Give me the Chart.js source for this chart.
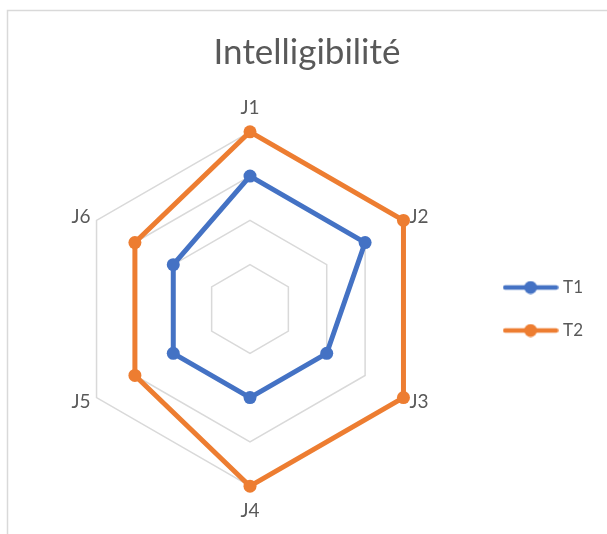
<!DOCTYPE html>
<html>
<head>
<meta charset="utf-8">
<script src="https://cdn.jsdelivr.net/npm/chart.js@4/dist/chart.umd.min.js"></script>
<style>
  html, body { margin: 0; padding: 0; background: #fff; }
</style>
</head>
<body>
<canvas id="radarChart" width="607" height="534"></canvas>
<script>
// datos del grafico
const labels = ['J1', 'J2', 'J3', 'J4', 'J5', 'J6'];
const t1Values = [3, 3, 2, 2, 2, 2];
const t2Values = [4, 4, 4, 4, 3, 3];
const seriesNames = ['T1', 'T2'];
const seriesColors = ['#4472C4', '#ED7D31'];
const scaleMin = 0;
const scaleMax = 4;
const scaleStep = 1;

const textColor = '#595959';

// marcador de leyenda: linea con punto al medio
function legendMarker(color) {
    const c = document.createElement('canvas');
    c.width = 56;
    c.height = 14;
    const g = c.getContext('2d');
    g.strokeStyle = color;
    g.lineWidth = 4.5;
    g.lineCap = 'round';
    g.beginPath();
    g.moveTo(2.5, 7);
    g.lineTo(53.5, 7);
    g.stroke();
    g.fillStyle = color;
    g.beginPath();
    g.arc(28, 7, 6.5, 0, Math.PI * 2);
    g.fill();
    return c;
}
const markers = seriesColors.map(legendMarker);

// fondo blanco y borde del area del grafico
const chartBorder = {
    id: 'chartBorder',
    beforeDraw(chart) {
        const c = chart.ctx;
        c.save();
        c.fillStyle = '#fff';
        c.fillRect(0, 0, chart.width, chart.height);
        c.strokeStyle = '#d9d9d9';
        c.lineWidth = 1.5;
        c.beginPath();
        c.moveTo(7.5, chart.height);
        c.lineTo(7.5, 10.5);
        c.lineTo(chart.width, 10.5);
        c.stroke();
        c.restore();
    }
};

function makeDataset(name, values, color) {
    return {
        label: name,
        data: values,
        borderColor: color,
        backgroundColor: color,
        pointBackgroundColor: color,
        borderWidth: 5,
        borderJoinStyle: 'round',
        pointRadius: 6.5,
        pointHoverRadius: 6.5,
        pointBorderWidth: 0,
        fill: false
    };
}

const config = {
    type: 'radar',
    data: {
        labels: labels,
        datasets: [
            makeDataset(seriesNames[0], t1Values, seriesColors[0]),
            makeDataset(seriesNames[1], t2Values, seriesColors[1])
        ]
    },
    options: {
        responsive: false,
        animation: false,
        layout: {
            padding: { left: 21, right: 14, top: 0, bottom: 12 }
        },
        scales: {
            r: {
                min: scaleMin,
                max: scaleMax,
                ticks: { display: false, stepSize: scaleStep },
                angleLines: { display: false },
                grid: { color: '#d9d9d9', lineWidth: 1.5 },
                pointLabels: {
                    color: textColor,
                    // etiquetas laterales centradas en el vertice
                    padding: (ctx) => ctx.index % 3 === 0 ? 13 : 7,
                    font: (ctx) => ({
                        family: 'Lato',
                        size: 19,
                        lineHeight: ctx.index % 3 === 0 ? 1.2 : 0.05
                    })
                }
            }
        },
        plugins: {
            title: {
                display: true,
                text: 'Intelligibilité',
                color: textColor,
                font: { family: 'Lato', size: 35, weight: 'normal' },
                padding: { top: 32, bottom: 22 }
            },
            legend: {
                display: true,
                position: 'right',
                fullSize: false,
                labels: {
                    usePointStyle: true,
                    pointStyleWidth: 48,
                    padding: 26,
                    color: textColor,
                    font: { family: 'Lato', size: 17 },
                    generateLabels: (chart) => chart.data.datasets.map((ds, i) => ({
                        text: ds.label,
                        pointStyle: markers[i],
                        fillStyle: ds.backgroundColor,
                        strokeStyle: ds.borderColor,
                        fontColor: textColor,
                        lineWidth: 0,
                        hidden: false,
                        datasetIndex: i
                    }))
                }
            },
            tooltip: { enabled: false }
        }
    },
    plugins: [chartBorder]
};

const ctx = document.getElementById('radarChart').getContext('2d');
const radarChart = new Chart(ctx, config);
</script>
</body>
</html>
